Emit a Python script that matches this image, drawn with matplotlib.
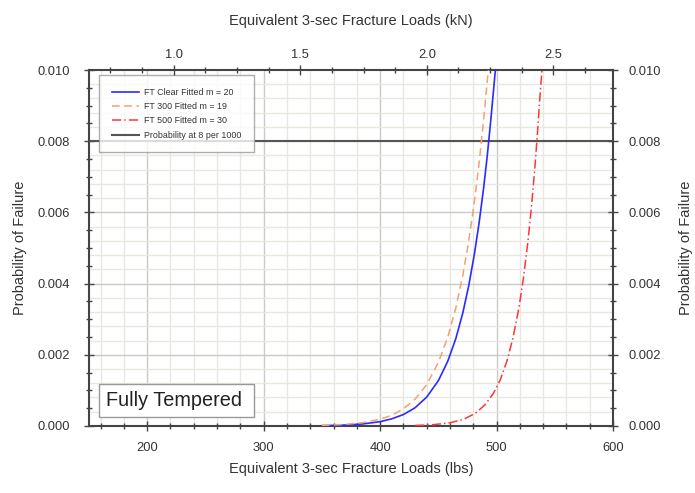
import matplotlib
matplotlib.use("Agg")
import matplotlib.pyplot as plt
from matplotlib.ticker import MultipleLocator, AutoMinorLocator, FormatStrFormatter

plt.rcParams['font.family'] = ['Liberation Sans', 'DejaVu Sans']

# data (load in lbs, probability of failure)
clear_lbs = [350, 370, 385, 400, 410, 420, 430, 440, 450, 458, 465, 471,
             476, 481, 485, 489, 492, 495, 497, 499]
clear_p = [0.000008, 0.000025, 0.000056, 0.00012, 0.00020, 0.00032, 0.00051,
           0.00081, 0.00127, 0.00181, 0.00245, 0.00317, 0.00392, 0.00483,
           0.00570, 0.00671, 0.00758, 0.00857, 0.00928, 0.0100]

ft300_lbs = [350, 370, 385, 400, 410, 420, 430, 440, 450, 458, 465, 471,
             476, 481, 485, 489, 492, 493]
ft300_p = [0.000015, 0.000043, 0.000092, 0.00019, 0.00030, 0.00048, 0.00075,
           0.00116, 0.00178, 0.00248, 0.00331, 0.00423, 0.00517, 0.00630,
           0.00738, 0.00862, 0.00969, 0.0100]

ft500_lbs = [430, 445, 460, 472, 482, 490, 497, 503, 509, 514, 519, 523,
             527, 530, 533, 535, 537, 539]
ft500_p = [0.000012, 0.000033, 0.000088, 0.00019, 0.00036, 0.00059, 0.00090,
           0.00128, 0.00183, 0.00246, 0.00328, 0.00413, 0.00519, 0.00616,
           0.00729, 0.00817, 0.00913, 0.0100]

labels = ['FT Clear Fitted m = 20', 'FT 300 Fitted m = 19',
          'FT 500 Fitted m = 30', 'Probability at 8 per 1000']
prob_line = 0.008
lbs_lim = (150, 600)
kn_lim = (0.666, 2.735)
p_lim = (0.0, 0.010)

txt = '#333333'
spine_c = '#444444'
tick_fs = 9.3

fig = plt.figure(figsize=(6.95, 4.93), dpi=100)
ax = fig.add_axes([0.128, 0.136, 0.754, 0.722])

ax.plot(clear_lbs, clear_p, color='#2b2bff', lw=1.2, label=labels[0], zorder=4)
ax.plot(ft300_lbs, ft300_p, color='#f5a070', lw=1.1, ls=(0, (5, 3)), label=labels[1], zorder=4)
ax.plot(ft500_lbs, ft500_p, color='#ff3535', lw=1.1, ls=(0, (6, 2, 1, 2)), label=labels[2], zorder=4)
ax.axhline(prob_line, color='#555555', lw=1.5, label=labels[3], zorder=3)

ax.set_xlim(*lbs_lim)
ax.set_ylim(*p_lim)
ax.xaxis.set_major_locator(MultipleLocator(100))
ax.xaxis.set_minor_locator(MultipleLocator(20))
ax.yaxis.set_major_locator(MultipleLocator(0.002))
ax.yaxis.set_minor_locator(MultipleLocator(0.0005))
ax.yaxis.set_major_formatter(FormatStrFormatter('%.3f'))

# grid
for x in range(160, 600, 20):
    major = x % 100 == 0
    ax.axvline(x, color='#cbcbc4' if major else '#e8e8e0', lw=1.0, zorder=1)
for i in range(1, 25):
    y = i * 0.0004
    major = i % 5 == 0
    ax.axhline(y, color='#cbcbc4' if major else '#e8e8e0', lw=1.0, zorder=1)

ax.set_xlabel('Equivalent 3-sec Fracture Loads (lbs)', fontsize=10.5, color=txt, labelpad=6)
ax.set_ylabel('Probability of Failure', fontsize=10.5, color=txt, labelpad=8)

for s in ax.spines.values():
    s.set_color(spine_c)
    s.set_linewidth(1.5)
ax.tick_params(which='both', direction='inout', colors=spine_c, labelcolor=txt, labelsize=tick_fs)
ax.tick_params(which='major', length=7, width=1)
ax.tick_params(which='minor', length=5, width=1)
ax.tick_params(axis='x', pad=8)
ax.tick_params(axis='y', pad=10)

# right axis
axr = ax.twinx()
axr.set_ylim(*p_lim)
axr.yaxis.set_major_locator(MultipleLocator(0.002))
axr.yaxis.set_minor_locator(MultipleLocator(0.0005))
axr.yaxis.set_major_formatter(FormatStrFormatter('%.3f'))
axr.set_ylabel('Probability of Failure', fontsize=10.5, color=txt)
axr.yaxis.set_label_coords(1.126, 0.5)
axr.tick_params(which='both', direction='inout', colors=spine_c, labelcolor=txt, labelsize=tick_fs, pad=8)
axr.tick_params(which='major', length=7, width=1)
axr.tick_params(which='minor', length=5, width=1)
for s in axr.spines.values():
    s.set_visible(False)

# top axis in kN
axt = ax.twiny()
axt.set_xlim(*kn_lim)
axt.xaxis.set_major_locator(MultipleLocator(0.5))
axt.xaxis.set_minor_locator(AutoMinorLocator(4))
axt.xaxis.set_major_formatter(FormatStrFormatter('%.1f'))
axt.set_xlabel('Equivalent 3-sec Fracture Loads (kN)', fontsize=10.5, color=txt, labelpad=17)
axt.tick_params(which='both', direction='inout', colors=spine_c, labelcolor=txt, labelsize=tick_fs, pad=3)
axt.tick_params(which='major', length=7, width=1)
axt.tick_params(which='minor', length=5, width=1)
for s in axt.spines.values():
    s.set_visible(False)

leg = ax.legend(loc='upper left', bbox_to_anchor=(0.02, 0.985), fontsize=6.4, frameon=True,
                fancybox=False, edgecolor='#999999', borderpad=1.4, labelspacing=0.6,
                handlelength=3.0, handletextpad=0.6, borderaxespad=0.0)
leg.get_frame().set_linewidth(1.0)
for t in leg.get_texts():
    t.set_color(txt)
leg.set_zorder(6)

ax.text(0.032, 0.046, 'Fully Tempered ', transform=ax.transAxes, fontsize=14.3, color='#222222',
        ha='left', va='bottom', zorder=6,
        bbox=dict(boxstyle='square,pad=0.35', fc='white', ec='#999999', lw=1.0))

fig.savefig('out.png', dpi=100)
